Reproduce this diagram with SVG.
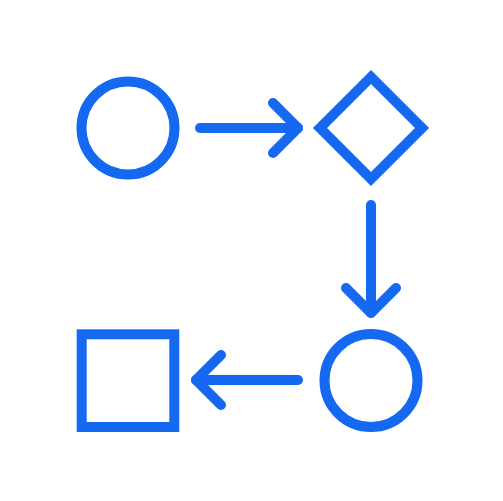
<svg xmlns="http://www.w3.org/2000/svg" width="503" height="501" viewBox="0 0 503 501">
  <style>
    .shape { fill: none; stroke: #1469F0; stroke-width: 10; }
    .conn { fill: none; stroke: #1469F0; stroke-width: 10; stroke-linecap: round; stroke-linejoin: round; }
  </style>
  <defs>
    <marker id="chev" markerUnits="userSpaceOnUse" viewBox="-35 -35 70 70" markerWidth="70" markerHeight="70" refX="0" refY="0" orient="auto" overflow="visible">
      <path d="M-25,-25 L0,0 L-25,25" fill="none" stroke="#1469F0" stroke-width="10" stroke-linecap="round" stroke-linejoin="round"/>
    </marker>
  </defs>
  <rect width="503" height="501" fill="#ffffff"/>
  <g id="node-start">
    <circle class="shape" cx="128" cy="128" r="46.5"/>
  </g>
  <g id="node-decision">
    <polygon class="shape" stroke-linejoin="miter" points="371,77 422,128 371,179 320,128"/>
  </g>
  <g id="node-circle2">
    <circle class="shape" cx="371" cy="380.5" r="46.5"/>
  </g>
  <g id="node-square">
    <rect class="shape" x="81.7" y="334.3" width="92.6" height="92.7"/>
  </g>
  <g id="connectors">
    <line class="conn" x1="200" y1="128" x2="298" y2="128" marker-end="url(#chev)"/>
    <line class="conn" x1="371" y1="205" x2="371" y2="313" marker-end="url(#chev)"/>
    <line class="conn" x1="298" y1="380" x2="196" y2="380" marker-end="url(#chev)"/>
  </g>
</svg>
